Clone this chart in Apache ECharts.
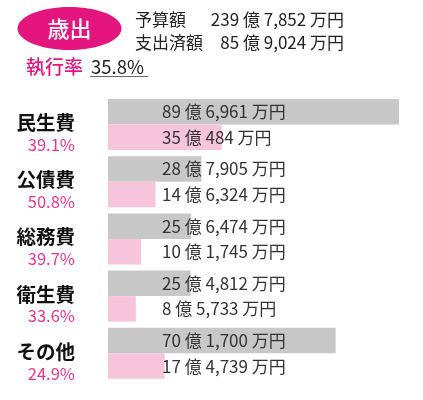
<!DOCTYPE html>
<html>
<head>
<meta charset="utf-8">
<script src="https://cdn.jsdelivr.net/npm/echarts@6/dist/echarts.min.js"></script>
<style>
  html, body { margin: 0; padding: 0; background: #fff; }
  #container { width: 423px; height: 400px; }
</style>
</head>
<body>
<div id="container"></div>
<script>
// 単位: 万円
var categories = ['民生費', '公債費', '総務費', '衛生費', 'その他'];
var rates = ['39.1%', '50.8%', '39.7%', '33.6%', '24.9%'];
var budget = [896961, 287905, 256474, 254812, 701700];
var spent = [350484, 146324, 101745, 85733, 174739];
var totalBudget = '239 億 7,852 万円';
var totalSpent = '85 億 9,024 万円';
var totalRate = '35.8%';

var FONT = '"Noto Sans CJK JP", "Noto Sans", sans-serif';
var PINK = '#e4157f';

function okuMan(v) {
    var oku = Math.floor(v / 10000);
    var man = v % 10000;
    return oku + ' 億 ' + echarts.format.addCommas(man) + ' 万円';
}

function grafico() {
    var dom = document.getElementById('container');
    var myChart = echarts.init(dom);
    var option;

    var barLabel = {
        show: true,
        position: [54, '50%'],
        verticalAlign: 'middle',
        align: 'left',
        color: '#333',
        fontSize: 17,
        fontFamily: FONT,
        formatter: function (p) { return okuMan(p.value); }
    };

    option = {
        animation: false,
        textStyle: { fontFamily: FONT },
        grid: { left: 108, right: 24, top: 95.9, bottom: 18.1 },
        xAxis: {
            type: 'value',
            min: 0,
            max: 'dataMax',
            show: false
        },
        yAxis: {
            type: 'category',
            inverse: true,
            data: categories,
            axisLine: { show: false },
            axisTick: { show: false },
            axisLabel: {
                margin: 33,
                padding: [16, 0, 0, 0],
                formatter: function (v, i) {
                    return '{a|' + v + '}\n{b|' + rates[i] + '}';
                },
                rich: {
                    a: { fontSize: 19.5, fontWeight: 'bold', color: '#111', lineHeight: 24, align: 'right', fontFamily: FONT },
                    b: { fontSize: 16.5, color: '#e8378b', lineHeight: 20, align: 'right', fontFamily: FONT }
                }
            }
        },
        series: [{
            name: '予算額',
            type: 'bar',
            data: budget,
            barWidth: 25.5,
            barGap: '0%',
            itemStyle: { color: '#c8c8c8' },
            label: barLabel
        }, {
            name: '支出済額',
            type: 'bar',
            data: spent,
            barWidth: 25.5,
            itemStyle: { color: '#f6c5dc' },
            label: barLabel
        }],
        graphic: [
            { type: 'ellipse', shape: { cx: 69.5, cy: 28.5, rx: 52, ry: 21.5 }, style: { fill: PINK } },
            { type: 'text', x: 69.5, y: 28.5, style: { text: '歳出', fill: '#fff', font: '500 22px ' + FONT, align: 'center', verticalAlign: 'middle' } },
            { type: 'text', x: 135, y: 20, style: { text: '予算額', fill: '#222', font: '17px ' + FONT, verticalAlign: 'middle' } },
            { type: 'text', x: 344, y: 20, style: { text: totalBudget, fill: '#222', font: '17px ' + FONT, align: 'right', verticalAlign: 'middle' } },
            { type: 'text', x: 135, y: 43, style: { text: '支出済額', fill: '#222', font: '17px ' + FONT, verticalAlign: 'middle' } },
            { type: 'text', x: 344, y: 43, style: { text: totalSpent, fill: '#222', font: '17px ' + FONT, align: 'right', verticalAlign: 'middle' } },
            { type: 'text', x: 26, y: 67, style: { text: '執行率', fill: PINK, font: '500 19px ' + FONT, verticalAlign: 'middle' } },
            { type: 'text', x: 91, y: 67, style: { text: totalRate, fill: '#222', font: '18.5px ' + FONT, verticalAlign: 'middle' } },
            { type: 'line', shape: { x1: 90, y1: 76.5, x2: 148, y2: 76.5 }, style: { stroke: '#666', lineWidth: 1 } }
        ]
    };

    if (option && typeof option === 'object') {
        myChart.setOption(option);
    }
}
grafico();
</script>
</body>
</html>
